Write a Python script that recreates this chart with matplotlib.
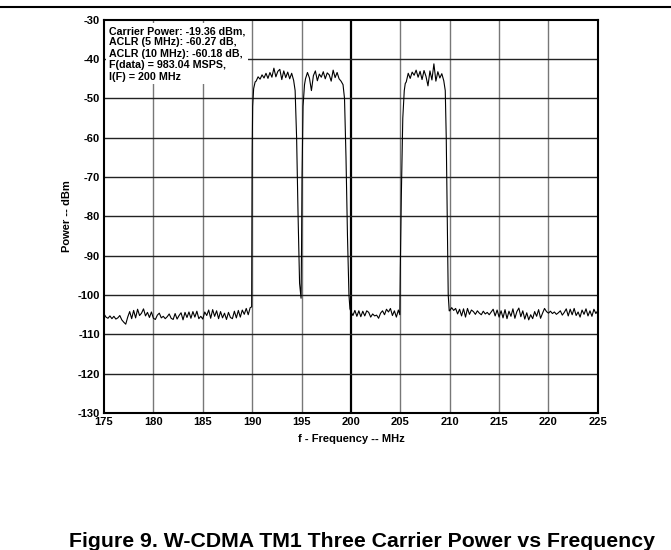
import numpy as np
import matplotlib.pyplot as plt
from matplotlib.lines import Line2D

plt.rcParams['font.family'] = ['Liberation Sans', 'DejaVu Sans']
plt.rcParams['axes.unicode_minus'] = False

# sweep data, dBm (0.2 MHz steps inside each segment)
step = 0.2

low_floor_start = 175.0
low_floor = [-104.8, -105.6, -105.9, -105.3, -106.0, -105.4, -106.1, -105.8, -105.2, -106.3,
             -106.9, -107.4, -105.6, -104.2, -106.0, -103.9, -105.8, -103.6, -105.2, -104.6,
             -103.5, -105.3, -104.4, -105.7, -104.3, -105.9, -106.2, -105.1, -104.6, -105.8,
             -105.4, -106.0, -105.5, -104.8, -105.9, -106.2, -104.7, -106.1, -105.2, -104.5,
             -106.3, -104.4, -105.7, -104.3, -105.9, -104.2, -105.6, -104.1, -106.0, -105.4,
             -106.1, -104.3, -105.2, -103.8, -105.9, -103.7, -105.4, -104.0, -106.0, -104.2,
             -105.8, -104.6, -106.2, -104.4, -105.7, -106.0, -104.1, -105.8, -103.9, -105.6,
             -103.8, -104.9, -103.4, -105.0, -103.2]

edge1_f = [189.95, 190.0, 190.05, 190.15, 190.3]
edge1_p = [-103.0, -64.0, -52.0, -47.5, -45.8]

carrier1_start = 190.4
carrier1 = [-45.6, -44.5, -45.1, -44.0, -44.8, -43.6, -44.9, -43.4, -44.6, -42.3,
            -44.5, -43.1, -42.6, -45.2, -43.0, -44.7, -43.3, -45.0, -43.6, -45.4]

notch_f = [194.35, 194.5, 194.65, 194.8, 194.95, 195.0, 195.05, 195.15, 195.3]
notch_p = [-48.0, -60.0, -80.0, -97.0, -100.8, -88.0, -70.0, -52.0, -46.5]

carrier2_start = 195.4
carrier2 = [-45.0, -43.4, -44.8, -48.0, -44.2, -43.0, -45.5, -43.8, -44.6, -43.2,
            -45.0, -43.5, -44.0, -45.6, -42.8, -44.7, -43.4, -45.0, -45.6, -46.5]

edge2_f = [199.35, 199.5, 199.65, 199.8, 199.9]
edge2_p = [-50.0, -65.0, -85.0, -100.0, -103.5]

mid_floor_start = 200.0
mid_floor = [-104.2, -105.2, -103.9, -105.4, -104.0, -105.5, -104.1, -105.3, -104.0, -104.4,
             -105.6, -104.8, -105.3, -105.1, -105.9, -104.6, -104.0, -105.0, -103.6, -104.3,
             -103.4, -105.2, -104.0, -105.6, -103.8]

edge3_f = [204.95, 205.0, 205.1, 205.25, 205.4, 205.5]
edge3_p = [-105.0, -93.0, -75.0, -55.0, -48.0, -46.2]

carrier3_start = 205.6
carrier3 = [-45.8, -43.6, -44.9, -43.3, -44.1, -42.8, -44.6, -43.1, -45.2, -42.9,
            -44.4, -46.8, -43.0, -45.3, -41.2, -45.6, -43.2, -44.8, -43.7, -45.5]

edge4_f = [209.55, 209.65, 209.75, 209.85, 209.95]
edge4_p = [-48.0, -60.0, -80.0, -100.0, -104.0]

high_floor_start = 210.0
high_floor = [-104.0, -103.2, -103.9, -103.4, -104.8, -103.6, -105.3, -103.5, -105.6, -103.4,
              -104.9, -103.8, -104.2, -104.9, -104.0, -104.6, -105.0, -104.1, -104.8, -104.4,
              -105.0, -104.3, -103.6, -105.3, -103.8, -105.6, -104.0, -105.8, -103.7, -106.0,
              -104.1, -105.4, -103.5, -105.9, -104.2, -103.3, -105.5, -104.0, -106.1, -104.5,
              -106.3, -105.0, -106.0, -104.2, -105.4, -103.7, -105.9, -104.6, -103.4, -104.2,
              -104.6, -104.1, -104.7, -104.3, -104.9, -104.5, -104.0, -105.1, -104.4, -103.5,
              -105.3, -103.6, -105.0, -103.4, -105.2, -104.3, -105.6, -103.8, -104.9, -103.5,
              -105.3, -104.0, -105.4, -103.6, -104.7, -103.9]

info_text = ("Carrier Power: -19.36 dBm,\nACLR (5 MHz): -60.27 dB,\n"
             "ACLR (10 MHz): -60.18 dB,\nF(data) = 983.04 MSPS,\nI(F) = 200 MHz")
caption = "Figure 9. W-CDMA TM1 Three Carrier Power vs Frequency"


def seg(start, vals):
    return list(start + step * np.arange(len(vals))), list(vals)


parts = [seg(low_floor_start, low_floor), (edge1_f, edge1_p),
         seg(carrier1_start, carrier1), (notch_f, notch_p),
         seg(carrier2_start, carrier2), (edge2_f, edge2_p),
         seg(mid_floor_start, mid_floor), (edge3_f, edge3_p),
         seg(carrier3_start, carrier3), (edge4_f, edge4_p),
         seg(high_floor_start, high_floor)]
freq = np.concatenate([p[0] for p in parts])
power = np.concatenate([p[1] for p in parts])

fig = plt.figure(figsize=(6.71, 5.5), dpi=100)
ax = fig.add_axes([0.155, 0.249, 0.736, 0.715])

# grid
for f in range(180, 225, 5):
    if f == 200:
        ax.axvline(f, color="black", lw=1.6, zorder=1)
    else:
        ax.axvline(f, color="#777777", lw=1.0, zorder=1)
for p in range(-120, -30, 10):
    ax.axhline(p, color="#222222", lw=1.0, zorder=1)

ax.plot(freq, power, color="black", lw=0.8, zorder=3)

ax.set_xlim(175, 225)
ax.set_ylim(-130, -30)
ax.set_xticks(range(175, 230, 5))
ax.set_yticks(range(-130, -20, 10))
ax.tick_params(length=0, labelsize=8, pad=3)
for lbl in ax.get_xticklabels() + ax.get_yticklabels():
    lbl.set_fontweight("bold")
for s in ax.spines.values():
    s.set_linewidth(1.5)
ax.set_xlabel("f - Frequency -- MHz", fontsize=8, fontweight="bold", labelpad=5)
ax.set_ylabel("Power -- dBm", fontsize=8, fontweight="bold", labelpad=4)

ax.text(0.01, 0.984, info_text, transform=ax.transAxes, fontsize=7.7, fontweight="bold",
        va="top", ha="left", linespacing=1.17, zorder=5,
        bbox=dict(facecolor="white", edgecolor="none", pad=2))

fig.text(0.54, 0.005, caption, fontsize=15.3, fontweight="bold", ha="center", va="baseline")
fig.add_artist(Line2D([0, 1], [0.987, 0.987], color="black", lw=1.5))

fig.savefig("out.png", dpi=100)
